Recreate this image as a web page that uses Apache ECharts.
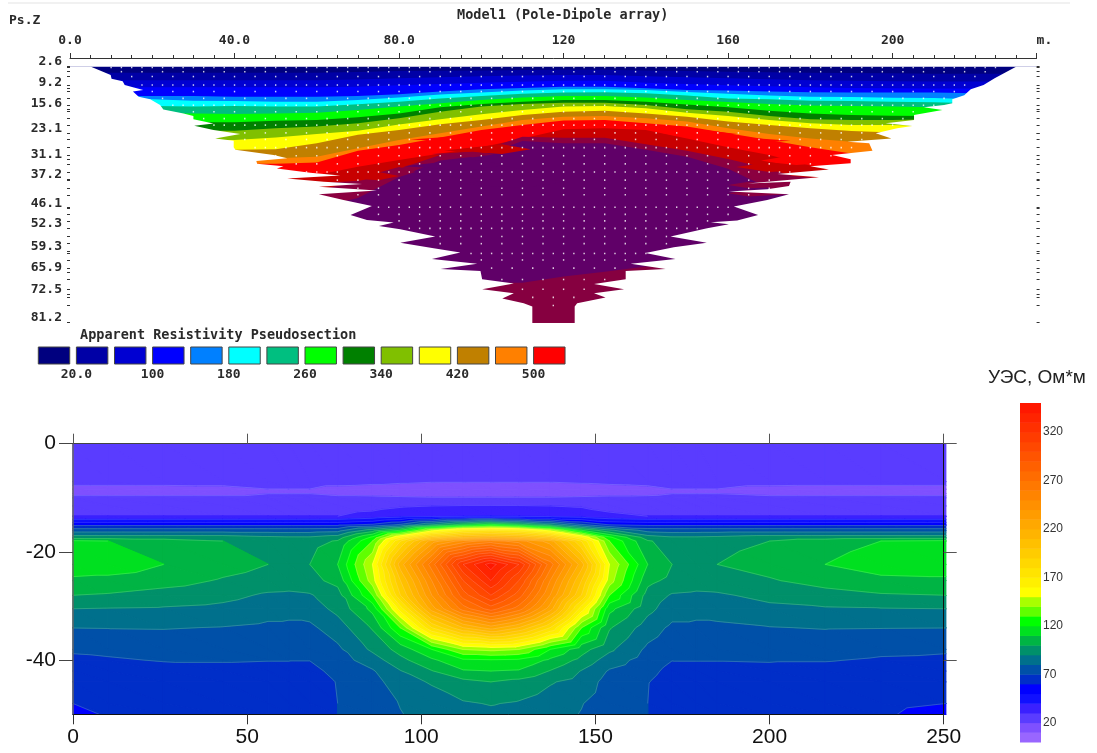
<!DOCTYPE html>
<html><head><meta charset="utf-8">
<style>html,body{margin:0;padding:0;background:#fff}#c{width:1097px;height:753px}</style>
<script src="https://cdn.jsdelivr.net/npm/echarts@6/dist/echarts.min.js"></script>
</head><body><div id="c"></div>
<script>
// ---------- Top panel: apparent resistivity pseudosection ----------
const pseudoX = [0,10,20,30,40,50,60,70,80,90,100,110,120,130,140,150,160,170,180,190,200,210,220,235];
const topNavy   = [2.7,2.7,2.7,2.7,2.7,2.7,2.7,2.7,2.7,2.7,2.7,2.7,2.7,2.7,2.7,2.7,2.7,2.7,2.7,2.7,2.7,2.7,2.7,2.7];
const topDarkBl = [4.5,4.5,4.5,4.5,4.5,4.5,4.5,4.3,4,3.9,3.8,3.7,3.6,3.6,3.8,4,4.2,4.4,4.5,4.6,4.7,4.8,4.8,4.8];
const topMedBl  = [6.8,6.8,6.8,6.8,6.8,6.8,6.8,6.6,6.2,5.9,5.6,5.4,5.2,5.2,5.6,5.9,6.2,6.5,6.8,7,7.1,7.2,7.2,7.2];
const topBlue   = [9,9,9,9,9,9,9,8.8,8.4,8,7.6,7.3,7,7,7.6,8,8.4,8.7,9,9.2,9.3,9.4,9.4,9.4];
const topAzure  = [11.7,11.7,11.7,11.7,11.9,11.9,11.9,11.7,11.1,10.3,9.6,9.2,8.8,8.8,9.3,9.8,10,10.3,10.5,10.6,10.6,10.6,10.8,10.8];
const topCyan   = [12.7,12.7,12.7,13.1,13.2,13.4,13.4,12.9,12.1,11.2,10.6,10,9.6,9.6,9.8,10.4,11,11.5,11.9,12,12.2,12.3,12.7,12.7];
const topTeal   = [14.7,14.7,14.7,14.9,14.7,14.9,14.9,14.2,13.4,12.4,11.7,11,10.6,10.5,10.8,11.5,12.4,12.7,13.1,13.2,13.4,13.6,13.9,13.9];
const topGreen  = [17,17,17,17,17.2,17,16.8,16,14.9,13.9,12.9,12.1,11.7,11.7,12.1,12.9,13.5,14.1,14.6,14.7,14.9,15.1,15.4,15.4];
const topDkGreen= [19.7,19.7,19.7,19.7,19.7,19.3,19,18.2,17,15.1,14.1,13.4,12.9,12.9,13.4,14.3,15.1,16.2,17,17.5,17.7,17.8,18,18];
const topOlive  = [22.3,22.3,22.3,22.3,22.3,21.6,21,20,18.5,16.5,14.9,14.1,13.7,13.7,14.4,15.7,16.5,17.8,18.8,19,19,18.8,19,19];
const topYellow = [25.2,25.2,25.2,25.2,25.2,24.4,23.3,22.3,20.4,18.8,17.3,16,14.9,14.7,15.4,16.8,17.8,19,20,20.6,20.6,21,21.6,21.6];
const topGold   = [28.2,28.2,28.2,28.2,28.2,28,26.2,23.6,22.1,20.3,19,17.5,16.5,16.2,17,18,19.5,20.6,21.6,22.4,22.9,23.6,24.7,24.7];
const topOrange = [30.8,30.8,30.8,30.8,30.8,30.8,30.3,27.7,25.2,23.1,21,19,18,17.8,18.5,19.5,21.6,23.3,24.7,25.7,26.2,26.7,27,27];
const topRed    = [32.5,32.5,32.5,32.5,32.5,32.5,32.1,28.5,26.7,24.4,22.1,20.6,19.2,19,20,21,23.1,25.2,27.4,29.3,31.3,33,33,33];
const topDkRed  = [37.5,37.5,37.5,37.5,37.5,37.5,35.9,33.4,31.3,29.3,27.4,24.7,21.9,21.6,22.1,24.7,27.4,29.8,33,34.5,35.4,36,36,36];
const topCrimson= [40.5,40.5,40.5,40.5,40.5,40.5,40.5,38,34,29.8,28.3,24.2,24.5,24.5,26.5,28.5,31,34,38,38,38,38,38,38];
const topPurple = [46,46,46,46,46,46,46,43,36.5,31.5,30,25.5,26.2,26.2,28.2,30.3,34,40,44,46,46,46,46,46];
const topDeep   = [69,69,69,69,69,69,69,69,69,69,69,69,67.1,65.6,64,64,64,64,64,64,64,64,64,64];
const pseudoBoundaries = [topNavy,topDarkBl,topMedBl,topBlue,topAzure,topCyan,topTeal,topGreen,topDkGreen,topOlive,topYellow,topGold,topOrange,topRed,topDkRed,topCrimson,topPurple,topDeep];
const pseudoColors = ['#00007f','#0000a6','#0000d2','#0000ff','#0080ff','#00ffff','#00bf80','#00ff00','#008000','#80c000','#ffff00','#c08000','#ff8000','#ff0000','#c80000','#8b0040','#600068','#860040'];

// saw-tooth tongues of one colour into the next: tip, widest part
const fingerColor = ['#ff0000','#c80000','#8b0040','#600068','#600068','#600068','#8b0040','#c80000','#8b0040','#ff0000','#ff0000','#ff0000','#c80000','#8b0040','#8b0040','#8b0040'];
const fingerTipX  = [82.8,90.9,88,86.8,81.1,95,74,63,60,189.8,175.2,162.2,185,182.5,175.2,174.8];
const fingerTipD  = [25,28.4,29.5,35.9,33.2,38.7,35.5,36.5,38.5,31.6,25.4,23.3,33.9,37,39.5,41.8];
const fingerBaseX = [100,105,98,105,97,110,80,75,72,175,160,150,170,170,165,165];
const fingerBaseD1= [23.5,26.5,28.8,33,31,36,33.5,35,37.5,30,24,21.5,32,35.5,38,40.5];
const fingerBaseD2= [26,29.5,30.5,37.5,34.5,40,36.5,37.5,39.5,33,26.5,24.5,35,37.5,40,42.5];
const fingerTailX = [108,112,103,115,106,120,84,80,76,168,152,144,162,164,160,160];

// outline of the measured section: [distance, pseudo depth]
const outlineLeft = [[5.1,2.7],[9.9,5.2],[10.1,6.4],[12.8,7.1],[13.3,8.3],[15.3,9],[17.8,9.8],[15.3,10.3],[16.7,11.9],[19.5,12.7],[21.9,14.4],[22.7,15.8],[27.6,17],[30,17.8],[30,18.8],[34.9,20.1],[30.2,20.8],[34.9,22.1],[41.4,23.3],[35.3,24.7],[39.8,25.4],[39.8,27.4],[40.2,28.2],[49.5,29.8],[52.8,30.8],[45.3,31.6],[45.5,32.5],[51.9,33.2],[50.3,33.9],[58.4,35.2],[65.7,36.1],[52.8,37],[61.7,38],[71,38.7],[60.5,39.5],[74.6,40.7],[60.5,41.8],[66.5,43.6],[73.4,45.4],[68.2,48.2],[72.2,49.7],[78.7,50.5],[75.1,51.6],[80.3,52.6],[88.8,54.8],[80.3,56.7],[88.4,58.4],[94.9,59.7],[88,61.7],[99,63.2],[90.1,64.8],[99.8,65.4],[100.2,67.9],[107.9,69.2],[100.2,71],[107.9,72.2],[105.1,73.8],[110.3,75.3],[112.4,76.3],[112.4,81.6]];
const outlineRight = [[230,2.7],[224.8,6.2],[222.1,8.3],[219,9.6],[217.4,11.4],[214.5,12.7],[214.5,13.9],[212.5,14.4],[207.6,15.1],[212.1,16],[205.2,17.5],[205.2,19],[198.3,20],[204.8,20.9],[201.1,21.6],[195.9,23.1],[199.7,24.7],[189,25.7],[194.3,26.2],[195.1,28.5],[185.3,29.8],[189.8,31.1],[189.8,32.3],[180,33.2],[184.5,34.2],[172,35.6],[182.1,36.6],[164.7,38.5],[175.2,38],[174.8,39.3],[169.5,40.3],[160.2,41],[174.8,41.8],[169.5,43.6],[161.4,45.6],[167.3,48.2],[162.2,49.9],[155.8,50.4],[160.2,51],[154.9,52.3],[146,54.8],[154.8,56.7],[146.8,58.1],[139.9,59.9],[147.2,61.7],[136.3,63.2],[144.8,64.8],[135.1,65.4],[135.1,67.9],[127.4,69.4],[134.7,71],[127.4,72.2],[130.2,73.5],[123.3,75.3],[122.7,76.3],[122.7,81.6]];

// measurement points: depth row, first/last distance, spacing
const dotDepths = [2.9,4.2,5.7,8.3,10.3,12.4,14.5,16.5,18.6,20.6,23,25,27.5,30,32.5,35,37.5,40,42,45.8,48,50,52.3,54.8,57,60,62,64.5,68,71,73.5,76];
const dotFrom   = [10,12.5,15,17.5,20,22.5,25,30,32.5,35,37.5,42.5,45,50,55,57.5,65,70,70,75,75,80,82.5,90,90,97.5,100,102.5,105,110,112.5,117.5];
const dotTo     = [225,222.5,220,217.5,215,212.5,210,205,202.5,200,197.5,192.5,190,185,180,175,172.5,170,165,160,160,155,152.5,147.5,145,140,135,132.5,130,127.5,125,120];
const dotStep   = [2.5,5,5,2.5,5,5,2.5,5,5,2.5,5,5,2.5,5,5,2.5,5,5,5,2.5,5,5,2.5,5,5,2.5,5,5,5,5,5,5];

const psXTickValues = [0,40,80,120,160,200,235];
const psXTickLabels = ['0.0','40.0','80.0','120','160','200','  m.'];
const psYTickValues = [2.6,9.2,15.6,23.1,31.1,37.2,46.1,52.3,59.3,65.9,72.5,81.2];

// legend of the top panel
const legendLower  = [-20,20,60,100,140,180,220,260,300,340,380,420,460,500];
const legendColors = ['#00007f','#0000a6','#0000d2','#0000ff','#0080ff','#00ffff','#00bf80','#00ff00','#008000','#80c000','#ffff00','#c08000','#ff8000','#ff0000'];
const legendTickValues = [20,100,180,260,340,420,500];
const legendTickLabels = ['20.0','100','180','260','340','420','500'];

// ---------- Bottom panel: resistivity model on a node grid ----------
const modelX = [0,10,26,43,56,62,68,76,86,94,103,112,120,128,137,146,154,165,172,179,185,200,216,232,250.6];
const modelZ = [0,-7,-8.4,-9.2,-10,-11.5,-13.4,-15,-16,-17.3,-18,-22.3,-25.3,-28,-30.5,-34,-38,-40,-42,-44,-48,-50];
const rowZ0   = [25,25,25,25,25,25,25,25,25,25,25,25,25,25,25,25,25,25,25,25,25,25,25,25,25];
const rowZ7   = [25,25,25,25,25,25,25,25,23,21.5,20.5,20.5,20.5,20.5,20.5,21.5,23,25,25,25,25,25,25,25,25];
const rowZ8   = [15,15,15,16,19.9,19.9,19.9,16,15,15,15,15,15,15,15,15,15,16,19.9,19.9,19.9,16,15,15,15];
const rowZ9   = [18,18,18,18,19.9,19.9,19.9,18.5,18,17.5,17,17,17,17,17,17.5,18,18.5,19.9,19.9,19.9,18,18,18,18];
const rowZ10  = [22,22,22,22,22,22,22,21.5,21.5,21,20.5,20.5,20.5,20.5,20.5,21,21.5,21.5,22,22,22,22,22,22,22];
const rowZ11  = [26,26,26,26,26,26,26,26,27,29,30,30.5,30.5,30.5,30,29,27,26,26,26,26,26,26,26,26];
const rowZ13  = [30,30,30,30,30,30,30,30,33,36,38,39,40,39,38,36,32,30,30,30,30,30,30,30,30];
const rowZ15  = [58,58,58,58,58,58,58,58,62,72,90,105,115,105,90,72,60,58,58,58,58,58,58,58,58];
const rowZ16  = [75,75,75,75,75,75,75,76,95,110,145,165,170,165,145,110,92,76,75,75,75,75,75,75,75];
const rowZ17  = [95,95,95,95,92,91,91,95,122,160,195,210,215,210,195,160,122,95,91,91,92,95,95,95,95];
const rowZ18  = [112,110,105,100,97,95,96,101,130,180,225,245,255,245,225,180,130,101,96,95,97,100,105,110,112];
const rowZ22  = [116,116,110,104,100,97,100,110,150,215,265,320,345,320,265,215,150,110,100,97,100,104,110,116,116];
const rowZ25  = [108,107,104,99,96,95,97,103,145,200,250,300,330,300,250,200,145,103,97,95,96,99,104,107,108];
const rowZ28  = [100,99,96,93,88.5,88,89,96,130,190,240,285,310,285,240,190,130,96,89,88,88.5,93,96,99,100];
const rowZ30  = [90,89.5,89,87.5,84,83,84.5,93,113,165,225,265,285,265,225,165,113,93,84.5,83,84,87.5,89,89.5,90];
const rowZ34  = [80.1,80.3,80.5,79.6,78,78,78,85,101,130,180,210,225,210,180,130,101,85,78,78,78,79.6,80.5,80.3,80.1];
const rowZ38  = [71,72,74,73,72,72,73,78,92,104,120,140,143,140,120,104,92,78,73,72,72,73,74,72,71];
const rowZ40  = [68.5,69,70.5,70.5,70.2,70.2,70.2,75.5,85,97,108,118,119,118,108,97,85,75.5,70.2,70.2,70.2,70.5,70.5,69,68.5];
const rowZ42  = [66,66,67,68,68,68,67,73,79,89.5,99.5,109,110,109,99.5,89.5,79,73,67,68,68,68,67,66,66];
const rowZ44  = [65,65,65.5,66,66,66,65,70.5,76,86,91,97,100,97,91,86,76,70.5,65,66,66,66,65.5,65,65];
const rowZ48  = [60,62,63,63,63,63,62,70,74,80.5,85,89,90.5,89,85,80.5,74,70,62,63,63,63,63,62,60];
const rowZ50  = [57,61,62,62,62,62,61,70,73,79.5,84,87,88,87,84,79.5,73,70,61,62,62,62,62,61,57];
const modelRows = [rowZ0,rowZ7,rowZ8,rowZ9,rowZ10,rowZ11,rowZ13,rowZ15,rowZ16,rowZ17,rowZ18,rowZ22,rowZ25,rowZ28,rowZ30,rowZ34,rowZ38,rowZ40,rowZ42,rowZ44,rowZ48,rowZ50];

// colour scale: one colour per 10 Ohm*m step, from 0 upward
const scaleStep = 10;
const scaleColors = ['#9966ff','#7f50ff','#5a3cff','#3a20ff','#1010ff','#0000ff','#002ec8','#0050a8','#00708c','#00906a','#00b444','#00e020','#00ff00','#60ff00','#a8ff00','#ffff00','#fff000','#ffe400','#ffd800','#ffcc00','#ffc000','#ffb400','#ffa800','#ff9c00','#ff9000','#ff8400','#ff7800','#ff6c00','#ff6000','#ff5400','#ff4800','#ff3c00','#ff3000','#ff2400','#ff1800'];
const scaleTickValues = [20,70,120,170,220,270,320];
const modelZTicks = [0,-20,-40];

// ---------- contouring of the model grid ----------
function clipBy(poly, level, keepAbove){
  const out=[];
  for(let i=0;i<poly.length;i++){
    const a=poly[i], b=poly[(i+1)%poly.length];
    const ina = keepAbove ? a[2]>=level : a[2]<=level;
    const inb = keepAbove ? b[2]>=level : b[2]<=level;
    if(ina) out.push(a);
    if(ina!==inb){
      const t=(level-a[2])/(b[2]-a[2]);
      out.push([a[0]+t*(b[0]-a[0]),a[1]+t*(b[1]-a[1]),level]);
    }
  }
  return out;
}
const bandPolys = scaleColors.map(()=>[]);
const contourSegs = [];
function addTriangle(tri){
  const vs=tri.map(p=>p[2]), mn=Math.min(...vs), mx=Math.max(...vs);
  for(let k=0;k<scaleColors.length;k++){
    const lo=k*scaleStep, hi=lo+scaleStep;
    if(mx<lo||mn>hi) continue;
    let p=clipBy(tri,lo,true); if(p.length<3) continue;
    p=clipBy(p,hi,false); if(p.length<3) continue;
    bandPolys[k].push(p.map(q=>[q[0],q[1]]));
  }
  for(let k=1;k<scaleColors.length;k++){
    const L=k*scaleStep; if(L<=mn||L>=mx) continue;
    const pts=[];
    for(let i=0;i<3;i++){
      const a=tri[i], b=tri[(i+1)%3];
      if((a[2]<L)!==(b[2]<L)){
        const t=(L-a[2])/(b[2]-a[2]);
        pts.push([a[0]+t*(b[0]-a[0]),a[1]+t*(b[1]-a[1])]);
      }
    }
    if(pts.length===2) contourSegs.push(pts);
  }
}
for(let r=0;r<modelZ.length-1;r++){
  for(let c=0;c<modelX.length-1;c++){
    const A=[modelX[c],modelZ[r],modelRows[r][c]], B=[modelX[c+1],modelZ[r],modelRows[r][c+1]];
    const C=[modelX[c+1],modelZ[r+1],modelRows[r+1][c+1]], D=[modelX[c],modelZ[r+1],modelRows[r+1][c]];
    addTriangle([A,B,C]); addTriangle([A,C,D]);
  }
}

// ---------- pseudosection shapes ----------
const psMax = 81.2, psXMax = 235;
const psPolys = pseudoBoundaries.map((b,i)=>({
  fill: pseudoColors[i],
  points: pseudoX.map((x,j)=>[x,b[j]]).concat([[psXMax,psMax],[0,psMax]])
}));
fingerColor.forEach((c,i)=>psPolys.push({fill:c,points:[
  [fingerTipX[i],fingerTipD[i]],[fingerBaseX[i],fingerBaseD1[i]],
  [fingerTailX[i],(fingerBaseD1[i]+fingerBaseD2[i])/2],[fingerBaseX[i],fingerBaseD2[i]]]}));
psPolys.push({fill:'#ffffff',points:[[-0.5,2.7]].concat(outlineLeft,[[-0.5,81.6]])});
psPolys.push({fill:'#ffffff',points:[[psXMax+0.5,2.7]].concat(outlineRight,[[psXMax+0.5,81.6]])});

const dots=[];
dotDepths.forEach((d,i)=>{ for(let x=dotFrom[i];x<=dotTo[i];x+=dotStep[i]) dots.push([x,d]); });

const mono='"DejaVu Sans Mono","Liberation Mono",monospace';
const sans='"Liberation Sans",Arial,sans-serif';
const monoLabel={fontFamily:mono,fontWeight:'bold',fontSize:13,color:'#2a2a2a'};
const none={show:false};

const chart=echarts.init(document.getElementById('c'),null,{renderer:'canvas'});
chart.setOption({
  animation:false,
  backgroundColor:'#fff',
  title:[
    {text:'Model1 (Pole-Dipole array)',left:457,top:8,padding:0,textStyle:{fontFamily:mono,fontWeight:'bold',fontSize:13.5,color:'#2a2a2a'}},
    {text:'Ps.Z',left:9,top:14,padding:0,textStyle:{fontFamily:mono,fontWeight:'bold',fontSize:13,color:'#2a2a2a'}},
    {text:'Apparent Resistivity Pseudosection',left:80,top:328,padding:0,textStyle:{fontFamily:mono,fontWeight:'bold',fontSize:13.5,color:'#2a2a2a'}},
    {text:'УЭС, Ом*м',left:988,top:368,padding:0,textStyle:{fontFamily:sans,fontWeight:'normal',fontSize:19,color:'#222'}}
  ],
  graphic:[{type:'rect',left:8,top:2,shape:{width:1062,height:2},style:{fill:'#f1f1f1'},silent:true}],
  grid:[
    {left:70,top:58,width:966.6,height:264.5},
    {left:38.3,top:347,width:533.4,height:17},
    {left:73,top:443.7,width:870.7,height:270.6},
    {left:1020,top:403,width:21,height:339}
  ],
  xAxis:[
    {gridIndex:0,type:'value',position:'top',min:0,max:psXMax,interval:40,z:6,
      axisLine:{onZero:false,lineStyle:{color:'#333',width:1}},
      axisTick:{length:5,lineStyle:{color:'#333'}},
      minorTick:{show:true,splitNumber:8,length:3,lineStyle:{color:'#333'}},
      splitLine:none,minorSplitLine:none,
      axisLabel:{...monoLabel,margin:11,customValues:psXTickValues,hideOverlap:false,
        formatter:v=>psXTickLabels[psXTickValues.indexOf(v)]}},
    {gridIndex:1,type:'value',position:'bottom',min:-20,max:540,
      axisLine:none,axisTick:none,splitLine:none,
      axisLabel:{...monoLabel,margin:4,customValues:legendTickValues,
        formatter:v=>legendTickLabels[legendTickValues.indexOf(v)]}},
    {gridIndex:2,type:'value',position:'bottom',min:0,max:250,interval:50,z:6,
      axisLine:{onZero:false,lineStyle:{color:'#111',width:1}},
      axisTick:{length:10,lineStyle:{color:'#333'}},splitLine:none,
      axisLabel:{fontFamily:sans,fontSize:21,color:'#111',margin:12}},
    {gridIndex:2,type:'value',position:'top',min:0,max:250,interval:50,z:6,
      axisLine:{onZero:false,lineStyle:{color:'#444',width:1}},
      axisTick:{length:10,lineStyle:{color:'#555'}},splitLine:none,axisLabel:none},
    {gridIndex:3,type:'value',min:0,max:1,show:false}
  ],
  yAxis:[
    {gridIndex:0,type:'value',position:'left',inverse:true,min:0,max:psMax,z:6,
      axisLine:{show:false},
      axisTick:{length:3,customValues:dotDepths.concat(psYTickValues),lineStyle:{color:'#333',width:1}},
      splitLine:none,
      axisLabel:{...monoLabel,margin:8,customValues:psYTickValues,verticalAlign:'bottom',lineHeight:10,formatter:v=>v.toFixed(1)}},
    {gridIndex:0,type:'value',position:'right',inverse:true,min:0,max:psMax,z:6,
      axisLine:{show:false},
      axisTick:{length:3,customValues:dotDepths.concat(psYTickValues),lineStyle:{color:'#333',width:1}},
      splitLine:none,axisLabel:none},
    {gridIndex:1,type:'value',min:0,max:1,show:false},
    {gridIndex:2,type:'value',position:'left',min:-50,max:0,z:6,
      axisLine:{onZero:false,lineStyle:{color:'#666',width:1.5}},
      axisTick:{length:14,customValues:modelZTicks,lineStyle:{color:'#444'}},splitLine:none,
      axisLabel:{fontFamily:sans,fontSize:21,color:'#111',margin:17,customValues:modelZTicks}},
    {gridIndex:2,type:'value',position:'right',min:-50,max:0,z:6,
      axisLine:{onZero:false,lineStyle:{color:'#111',width:1}},
      axisTick:{length:13,customValues:modelZTicks,lineStyle:{color:'#555'}},splitLine:none,axisLabel:none},
    {gridIndex:3,type:'value',position:'right',min:0,max:350,
      axisLine:none,axisTick:none,splitLine:none,
      axisLabel:{fontFamily:sans,fontSize:12,color:'#333',margin:2,customValues:scaleTickValues}}
  ],
  series:[
    {type:'custom',xAxisIndex:0,yAxisIndex:0,silent:true,clip:false,z:2,
      data:psPolys.map((_,i)=>[i]),
      encode:{x:0},
      renderItem:(p,api)=>{const s=psPolys[api.value(0)];
        return {type:'polygon',shape:{points:s.points.map(q=>api.coord(q))},style:{fill:s.fill}};}},
    {type:'scatter',xAxisIndex:0,yAxisIndex:0,silent:true,z:3,data:dots,symbol:'rect',symbolSize:[1.4,1.6],
      itemStyle:{color:'#fff',opacity:0.8}},
    {type:'custom',xAxisIndex:1,yAxisIndex:2,silent:true,z:2,
      data:legendLower.map((v,i)=>[i]),encode:{x:0},
      renderItem:(p,api)=>{const i=api.value(0);
        const a=api.coord([legendLower[i],1]), b=api.coord([legendLower[i]+33,0]);
        return {type:'rect',shape:{x:a[0],y:a[1],width:b[0]-a[0],height:b[1]-a[1]},
          style:{fill:legendColors[i],stroke:'#444',lineWidth:1}};}},
    {type:'custom',xAxisIndex:2,yAxisIndex:3,silent:true,clip:false,z:2,
      data:bandPolys.map((_,i)=>[i]),encode:{x:0},
      renderItem:(p,api)=>{const k=api.value(0);
        return {type:'group',children:bandPolys[k].map(pl=>({type:'polygon',
          shape:{points:pl.map(q=>api.coord(q))},
          style:{fill:scaleColors[k],stroke:scaleColors[k],lineWidth:1.2,lineJoin:'round'}}))};}},
    {type:'custom',xAxisIndex:2,yAxisIndex:3,silent:true,clip:false,z:3,
      data:[[0]],encode:{x:0},
      renderItem:(p,api)=>({type:'group',children:contourSegs.map(s=>{
        const a=api.coord(s[0]), b=api.coord(s[1]);
        return {type:'line',shape:{x1:a[0],y1:a[1],x2:b[0],y2:b[1]},
          style:{stroke:'rgba(255,255,255,0.28)',lineWidth:0.6}};})})},
    {type:'custom',xAxisIndex:4,yAxisIndex:5,silent:true,z:2,
      data:scaleColors.map((_,i)=>[i]),encode:{x:0},
      renderItem:(p,api)=>{const k=api.value(0);
        const a=api.coord([0,(k+1)*scaleStep]), b=api.coord([1,k*scaleStep]);
        return {type:'rect',shape:{x:a[0],y:a[1],width:b[0]-a[0],height:b[1]-a[1]+0.5},style:{fill:scaleColors[k]}};}}
  ]
});
</script></body></html>
